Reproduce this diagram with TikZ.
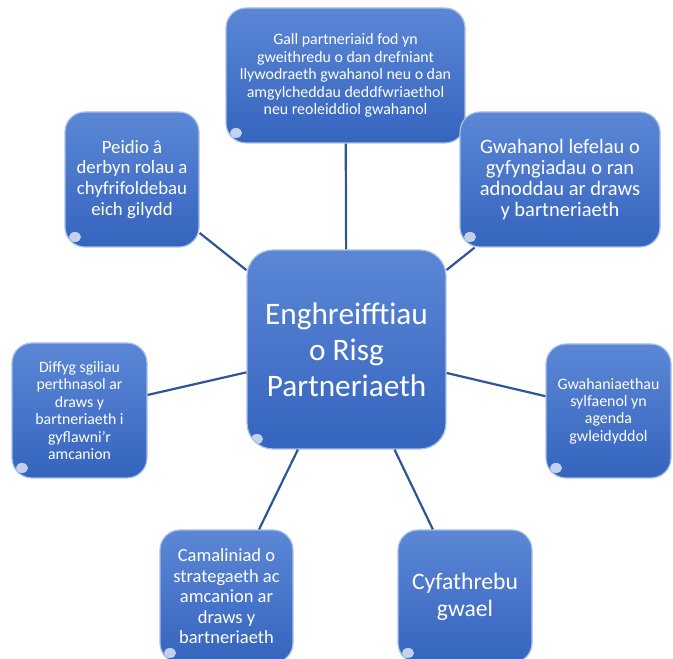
\documentclass[tikz,border=0pt]{standalone}
\usepackage{fontspec}
\setmainfont{Carlito}
\definecolor{boxtop}{HTML}{5C87D6}
\definecolor{boxbot}{HTML}{3564BE}
\definecolor{boxrim}{HTML}{A9C0EA}
\definecolor{wire}{HTML}{2F5597}
\tikzset{
  riskbox/.style={draw=boxrim, line width=1.2pt, top color=boxtop, bottom color=boxbot,
    text=white, align=center, inner sep=2pt, rounded corners=20pt,
    path picture={\fill[white, opacity=0.7] ([shift={(10pt,10pt)}]path picture bounding box.south west) ellipse (6pt and 5pt);}},
  link/.style={draw=wire, line width=2.2pt}
}
\begin{document}
\begin{tikzpicture}[x=1pt,y=1pt]
\useasboundingbox (0.000000,0.000000) rectangle (673.000000,659.000000);
\clip (0.000000,0.000000) rectangle (673.000000,659.000000);
% Drawing boxes
% Box 1: centre, the subject
\node[riskbox, minimum width=199pt, minimum height=199pt, rounded corners=26pt,
  font=\fontsize{31.3}{36}\selectfont] (ctr) at (346.500000,309.500000)
  {Enghreifftiau\\o Risg\\Partneriaeth};
% Box 2: top
\node[riskbox, minimum width=239pt, minimum height=135pt,
  font=\fontsize{15.9}{17.5}\selectfont] (top) at (345.500000,583.500000)
  {Gall partneriaid fod yn\\gweithredu o dan drefniant\\llywodraeth gwahanol neu o dan\\amgylcheddau deddfwriaethol\\neu reoleiddiol gwahanol};
% Box 3: top left
\node[riskbox, minimum width=134pt, minimum height=135pt,
  font=\fontsize{18.8}{20.9}\selectfont] (tl) at (132.000000,479.500000)
  {Peidio â\\derbyn rolau a\\chyfrifoldebau\\eich gilydd};
% Box 4: top right
\node[riskbox, minimum width=200pt, minimum height=135pt,
  font=\fontsize{20.5}{20.8}\selectfont] (tr) at (560.000000,479.500000)
  {Gwahanol lefelau o\\gyfyngiadau o ran\\adnoddau ar draws\\y bartneriaeth};
% Box 5: left
\node[riskbox, minimum width=135pt, minimum height=135pt,
  font=\fontsize{15.8}{17.5}\selectfont] (lft) at (79.500000,248.500000)
  {Diffyg sgiliau\\perthnasol ar\\draws y\\bartneriaeth i\\gyflawni’r\\amcanion};
% Box 6: right
\node[riskbox, minimum width=125pt, minimum height=134pt,
  font=\fontsize{15.9}{17.4}\selectfont] (rgt) at (608.500000,248.000000)
  {Gwahaniaethau\\sylfaenol yn\\agenda\\gwleidyddol};
% Box 7: bottom left
\node[riskbox, minimum width=133pt, minimum height=133pt,
  font=\fontsize{18.5}{20.5}\selectfont] (bl) at (226.500000,62.500000)
  {Camaliniad o\\strategaeth ac\\amcanion ar\\draws y\\bartneriaeth};
% Box 8: bottom right
\node[riskbox, minimum width=134pt, minimum height=133pt,
  font=\fontsize{23.6}{26.7}\selectfont] (br) at (465.000000,62.500000)
  {Cyfathrebu\\gwael};
% Done with boxes; drawing links
\draw[link] (ctr) -- (top);
\draw[link] (ctr) -- (tl);
\draw[link] (ctr) -- (tr);
\draw[link] (ctr) -- (lft);
\draw[link] (ctr) -- (rgt);
\draw[link] (ctr) -- (bl);
\draw[link] (ctr) -- (br);
% Done with links
\end{tikzpicture}
\end{document}
